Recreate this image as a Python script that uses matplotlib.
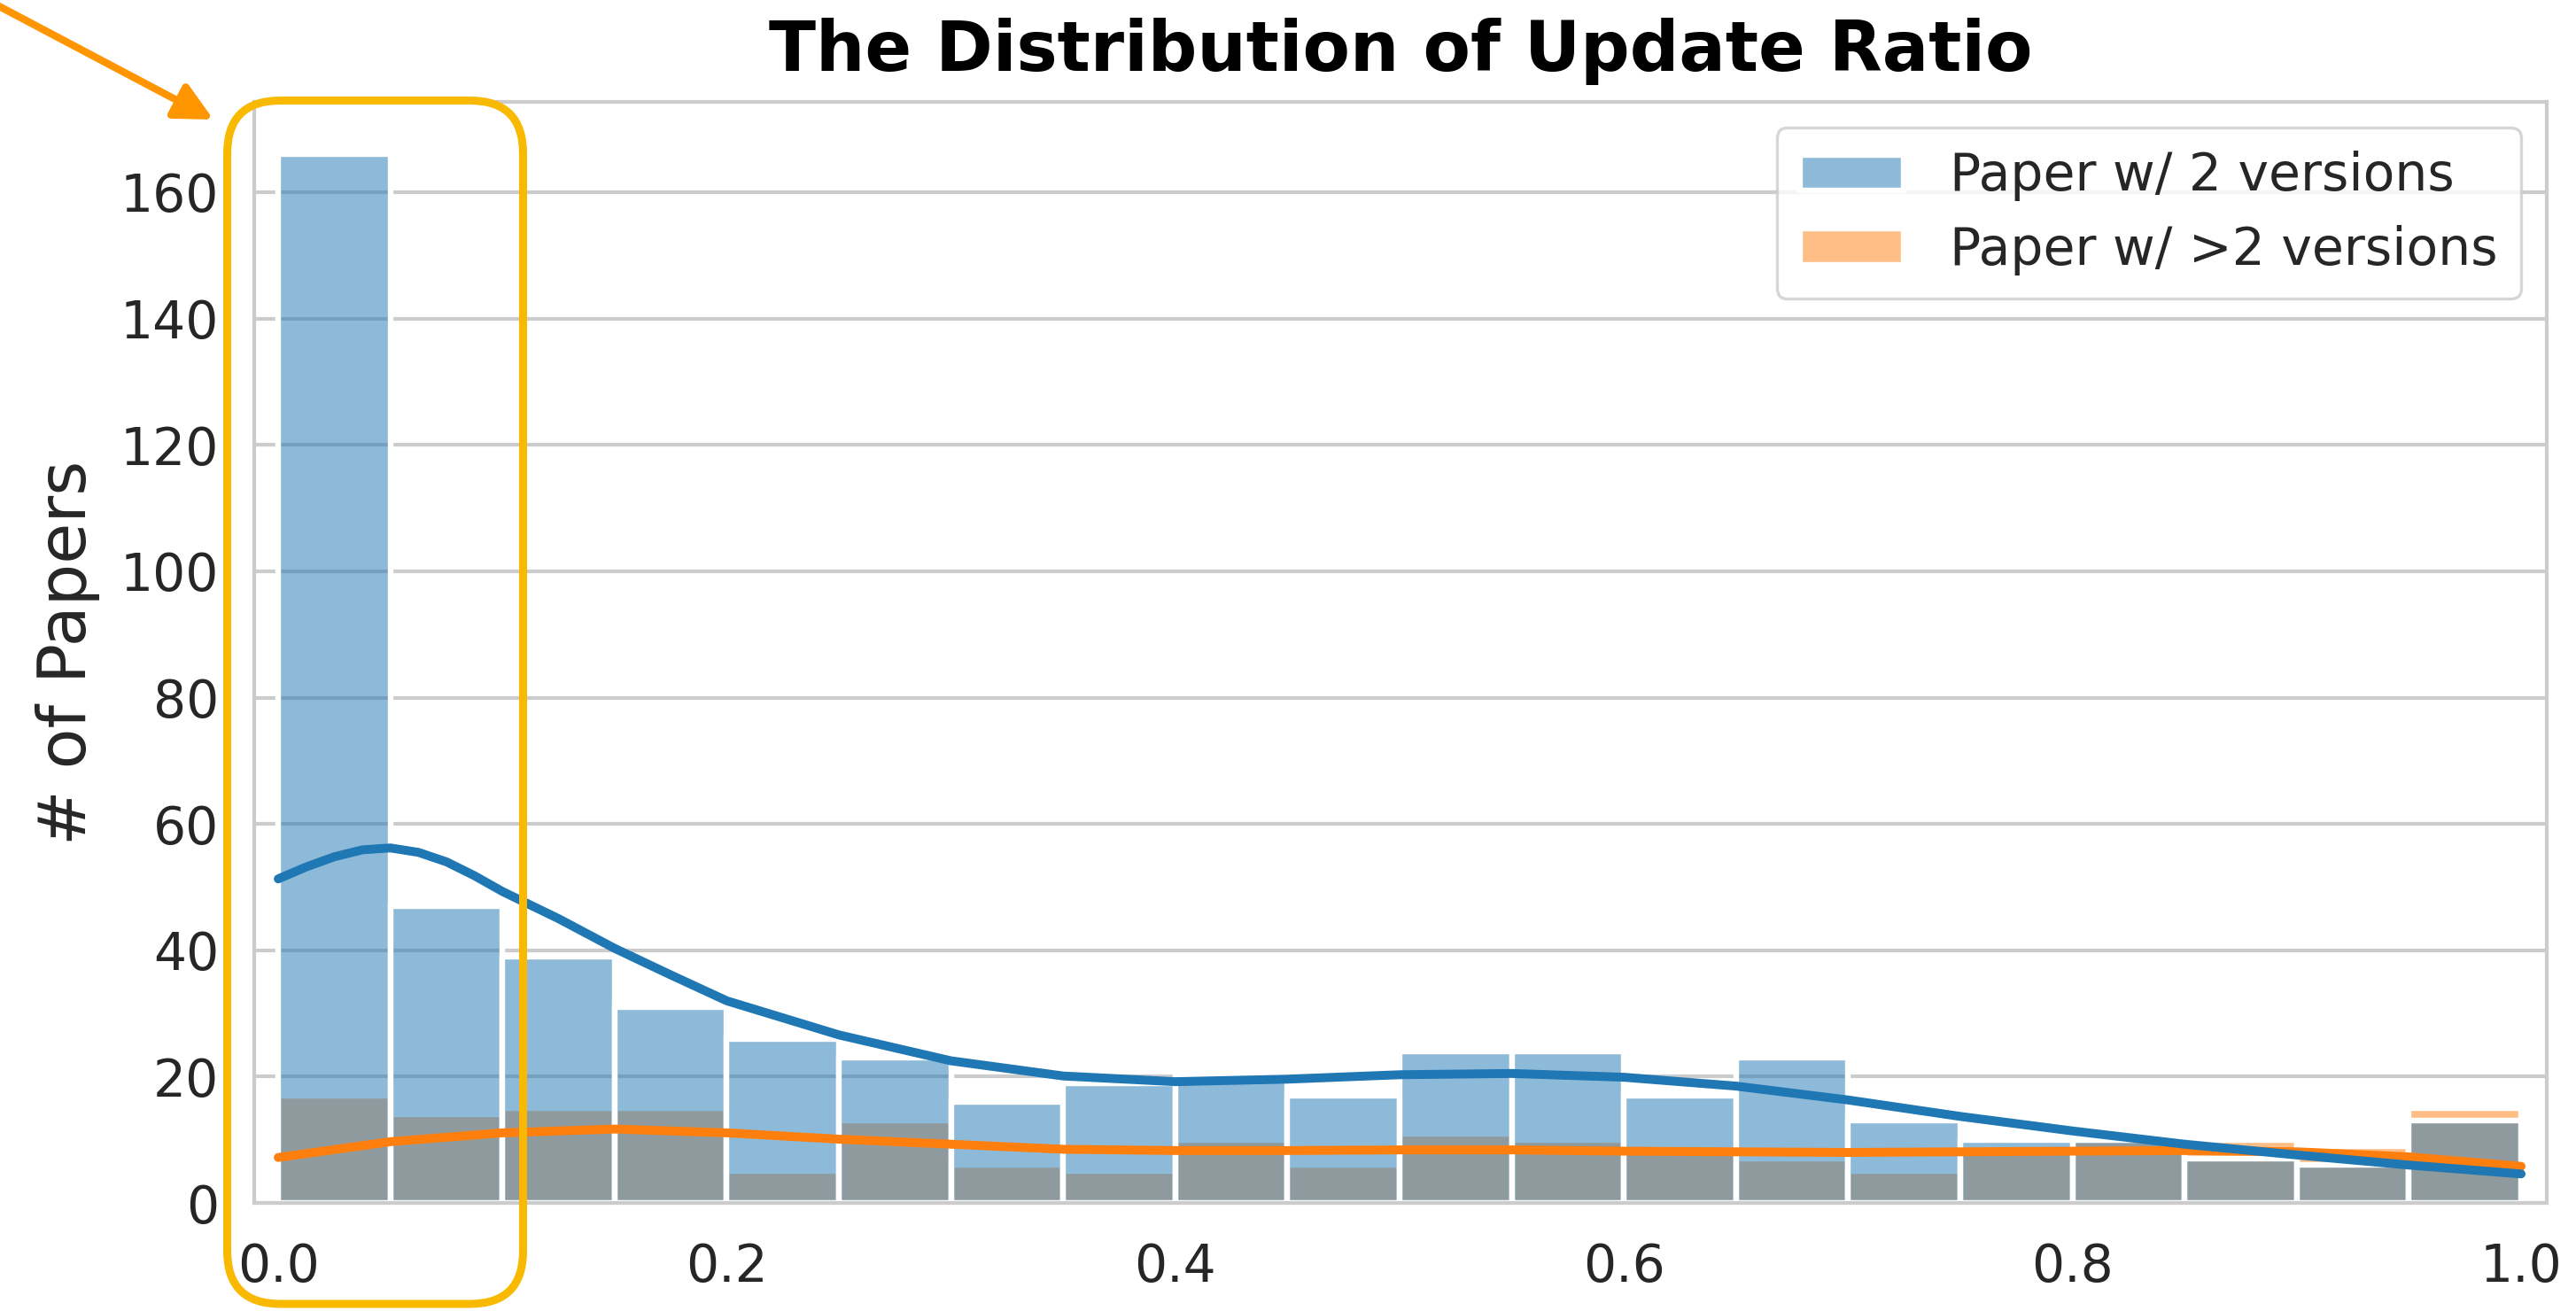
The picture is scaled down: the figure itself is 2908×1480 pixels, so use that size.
# histogram of update ratio with kde lines, plus highlight box + arrow
import numpy as np
import matplotlib
matplotlib.use('Agg')
import matplotlib.pyplot as plt
from matplotlib.patches import FancyArrowPatch, FancyBboxPatch

#%% Data

bin_width = 0.05
bin_left = [0.00, 0.05, 0.10, 0.15, 0.20, 0.25, 0.30, 0.35, 0.40, 0.45,
            0.50, 0.55, 0.60, 0.65, 0.70, 0.75, 0.80, 0.85, 0.90, 0.95]

# number of papers per bin
counts_two = [166, 47, 39, 31, 26, 23, 16, 19, 20, 17,
              24, 24, 17, 23, 13, 10, 10, 7, 6, 13]
counts_more = [17, 14, 15, 15, 5, 13, 6, 5, 10, 6,
               11, 10, 9, 7, 5, 9, 10, 10, 9, 15]

# kde curves (in counts)
kde_two_x = [0.0, 0.0125, 0.025, 0.0375, 0.05, 0.0625, 0.075, 0.0875, 0.1,
             0.125, 0.15, 0.175, 0.2, 0.25, 0.3, 0.35, 0.4, 0.45, 0.5,
             0.55, 0.6, 0.65, 0.7, 0.75, 0.8, 0.85, 0.9, 0.95, 1.0]
kde_two_y = [51.3, 53.2, 54.8, 55.9, 56.2, 55.5, 54.0, 51.8, 49.3,
             45.0, 40.3, 36.1, 32.0, 26.6, 22.5, 20.1, 19.2, 19.6, 20.3,
             20.5, 19.9, 18.5, 16.3, 13.7, 11.4, 9.3, 7.6, 6.0, 4.6]
kde_more_x = [0.0, 0.05, 0.1, 0.15, 0.2, 0.25, 0.3, 0.35, 0.4, 0.45, 0.5,
              0.55, 0.6, 0.65, 0.7, 0.75, 0.8, 0.85, 0.9, 0.95, 1.0]
kde_more_y = [7.2, 9.7, 11.1, 11.7, 11.1, 10.1, 9.3, 8.5, 8.3, 8.3, 8.4,
              8.4, 8.2, 8.1, 8.0, 8.1, 8.2, 8.3, 8.1, 7.3, 5.8]

labels = ['Paper w/ 2 versions', 'Paper w/ >2 versions']

#%% Plot

c_blue = '#1f77b4'
c_orange = '#ff7f0e'
grey = '#cccccc'
dark = '#262626'

fig = plt.figure(figsize=(14.54, 7.4), dpi=200)
ax = fig.add_axes([0.0987, 0.0824, 0.89, 0.8399])

ax.set_axisbelow(True)
ax.grid(axis='y', color=grey, linewidth=1.5)

b_more = ax.bar(bin_left, counts_more, width=bin_width, align='edge',
                color=matplotlib.colors.to_rgba(c_orange, 0.5),
                edgecolor='white', linewidth=2.3)
b_two = ax.bar(bin_left, counts_two, width=bin_width, align='edge',
               color=matplotlib.colors.to_rgba(c_blue, 0.5),
               edgecolor='white', linewidth=2.3)

ax.plot(kde_more_x, kde_more_y, color=c_orange, linewidth=3.6, solid_capstyle='round')
ax.plot(kde_two_x, kde_two_y, color=c_blue, linewidth=3.6, solid_capstyle='round')

ax.set_xlim(-0.0107, 1.0115)
ax.set_ylim(0, 174.3)
ax.set_xticks([0.0, 0.2, 0.4, 0.6, 0.8, 1.0])
ax.set_yticks(range(0, 161, 20))

for sp in ax.spines.values():
    sp.set_color(grey)
    sp.set_linewidth(1.5)

ax.tick_params(axis='both', length=0, labelsize=21, labelcolor=dark)
ax.tick_params(axis='y', pad=14.4)
ax.tick_params(axis='x', pad=16)

ax.set_ylabel('# of Papers', fontsize=27, color=dark, labelpad=8)
ax.set_title('The Distribution of Update Ratio', fontsize=28,
             fontweight='bold', pad=12.5)

leg = ax.legend([b_two, b_more], labels, loc='upper right', fontsize=21,
                handletextpad=0.9, labelspacing=0.45, borderpad=0.45)
leg.get_frame().set_edgecolor(grey)
leg.get_frame().set_linewidth(1.2)
for t in leg.get_texts():
    t.set_color(dark)

# highlight box around the first bins (figure inches)
box = FancyBboxPatch((1.2825, 0.04), 1.67, 6.7925,
                     boxstyle='round,pad=0,rounding_size=0.3',
                     transform=fig.dpi_scale_trans, fill=False,
                     edgecolor='#F8B900', linewidth=3.24)
fig.add_artist(box)

arrow = FancyArrowPatch((-0.1, 7.415), (1.205, 6.725),
                        transform=fig.dpi_scale_trans, arrowstyle='-|>',
                        mutation_scale=32, color='#FF9500', linewidth=3.0,
                        shrinkA=0, shrinkB=0)
fig.add_artist(arrow)

fig.savefig('out.png', dpi=200)
